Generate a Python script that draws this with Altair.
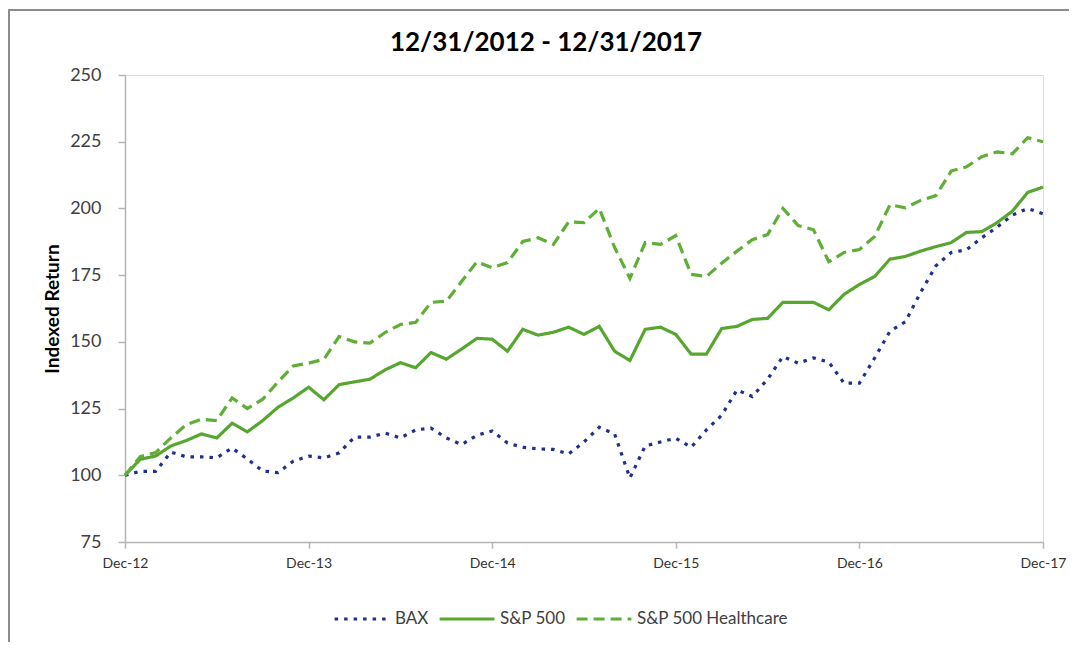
import altair as alt
import pandas as pd

# ---- data ----
series_names = ["BAX", "S&P 500", "S&P 500 Healthcare"]
tick_labels = ["Dec-12", "Dec-13", "Dec-14", "Dec-15", "Dec-16", "Dec-17"]
month_index = list(range(61))  # Dec-12 .. Dec-17, monthly
chart_title = "12/31/2012 - 12/31/2017"

bax = [100, 101.5, 101.5, 108.7, 106.9, 106.9, 106.6, 110.2, 106.1, 101.6,
       101, 105.3, 107.2, 106.5, 108.4, 114.3, 114.3, 115.8, 114, 117,
       117.7, 114, 111.5, 115, 116.6, 112.1, 110.5, 109.9, 109.7, 108,
       112.5, 118, 115.5, 99, 111, 112.5, 113.9, 110.5, 117, 122.5,
       132, 129.5, 136, 144.5, 142, 144, 142.4, 134.5, 134.5, 144,
       154, 157.5, 168.5, 178.5, 183.5, 184.5, 189, 193, 197.5, 200,
       198]

sp500 = [100, 106, 107.2, 111, 113, 115.5, 114, 119.5, 116.3, 120.5,
         125.5, 129, 133, 128.3, 134, 135, 136, 139.5, 142.2, 140.3,
         146, 143.5, 147.3, 151.3, 151, 146.5, 154.7, 152.5, 153.6, 155.5,
         152.8, 155.8, 146.5, 143, 154.7, 155.5, 152.8, 145.4, 145.4, 155,
         155.8, 158.4, 158.8, 164.8, 164.8, 164.8, 162, 167.8, 171.5, 174.5,
         181, 182, 184, 185.7, 187.2, 191, 191.3, 194.7, 199, 206,
         208]

healthcare = [100, 107, 108.5, 114, 119, 121, 120.5, 129, 125, 128.5,
              135, 141, 142, 143.5, 152, 150, 149.5, 153.5, 156.5, 157.3,
              164.8, 165.2, 172.6, 180, 177.8, 179.7, 187.6, 189, 186.5, 195,
              194.7, 200, 185.4, 173.8, 187.2, 186.5, 189.8, 175.3, 174.5, 179.5,
              184, 188.3, 190.2, 200, 193.6, 192, 180, 183.5, 184.6, 189.5,
              201.4, 200.2, 203, 204.8, 214, 215.6, 219.4, 221.2, 220.5, 226.5,
              225]

y_ticks = [75, 100, 125, 150, 175, 200, 225, 250]
x_ticks = [0, 12, 24, 36, 48, 60]

rows = []
for name, vals in zip(series_names, [bax, sp500, healthcare]):
    for m, v in zip(month_index, vals):
        rows.append({"month": m, "series": name, "value": v})
df = pd.DataFrame(rows)

label_expr = "[" + ",".join("'%s'" % t for t in tick_labels) + "][round(datum.value/12)]"

FONT = "Lato"
TXT = "#404040"
AXC = "#b4b4b4"

lines = alt.Chart(df).mark_line(strokeWidth=3.2, strokeCap="butt").encode(
    x=alt.X("month:Q",
            scale=alt.Scale(domain=[0, 60], nice=False, zero=False),
            axis=alt.Axis(values=x_ticks, labelExpr=label_expr, title=None,
                          grid=False, tickSize=6, labelPadding=8,
                          labelFontSize=14, labelColor="#333333", labelFont=FONT,
                          domainColor=AXC, tickColor=AXC, domainWidth=1.5,
                          tickWidth=1.5, labelFlush=False)),
    y=alt.Y("value:Q",
            scale=alt.Scale(domain=[75, 250], nice=False, zero=False),
            axis=alt.Axis(values=y_ticks, title="Indexed Return", grid=False,
                          tickSize=7, labelPadding=17, labelFontSize=18,
                          labelColor=TXT, labelFont=FONT,
                          titleFont=FONT, titleFontSize=19, titleFontWeight="bold",
                          titleColor="#000000", titlePadding=7,
                          domainColor=AXC, tickColor=AXC, domainWidth=1.5,
                          tickWidth=1.5)),
    color=alt.Color("series:N",
                    scale=alt.Scale(domain=series_names,
                                    range=["#1f2f8c", "#57a62f", "#5fae35"]),
                    legend=alt.Legend(title=None, orient="none", direction="horizontal",
                                      legendX=208, legendY=515,
                                      symbolType="stroke", symbolSize=3000,
                                      symbolStrokeWidth=3.2, labelFontSize=17,
                                      labelFont=FONT, labelColor=TXT,
                                      labelOffset=4, columnPadding=4)),
    strokeDash=alt.StrokeDash("series:N",
                              scale=alt.Scale(domain=series_names,
                                              range=[[3.5, 6], [1, 0], [11, 6]]),
                              legend=None),
    order=alt.Order("month:Q"),
)

one = pd.DataFrame({"t": [chart_title]})

frame = alt.Chart(one).mark_rect(
    fillOpacity=0, stroke="#8c8c8c", strokeWidth=2, clip=False
).encode(
    x=alt.value(-116), x2=alt.value(1300),
    y=alt.value(-65), y2=alt.value(800),
)

title = alt.Chart(one).mark_text(
    font=FONT, fontSize=26, fontWeight="bold", color="#000000",
    align="center", baseline="alphabetic", clip=False
).encode(
    text="t:N",
    x=alt.value(421), y=alt.value(-24),
)

chart = alt.layer(frame, lines, title).properties(
    width=918, height=467,
    padding={"left": 117, "top": 67, "right": 26, "bottom": 100},
    autosize=alt.AutoSizeParams(type="none"),
).configure_view(stroke=None).configure(background="white")

chart.save("out.html", embed_options={"renderer": "svg", "actions": False})
